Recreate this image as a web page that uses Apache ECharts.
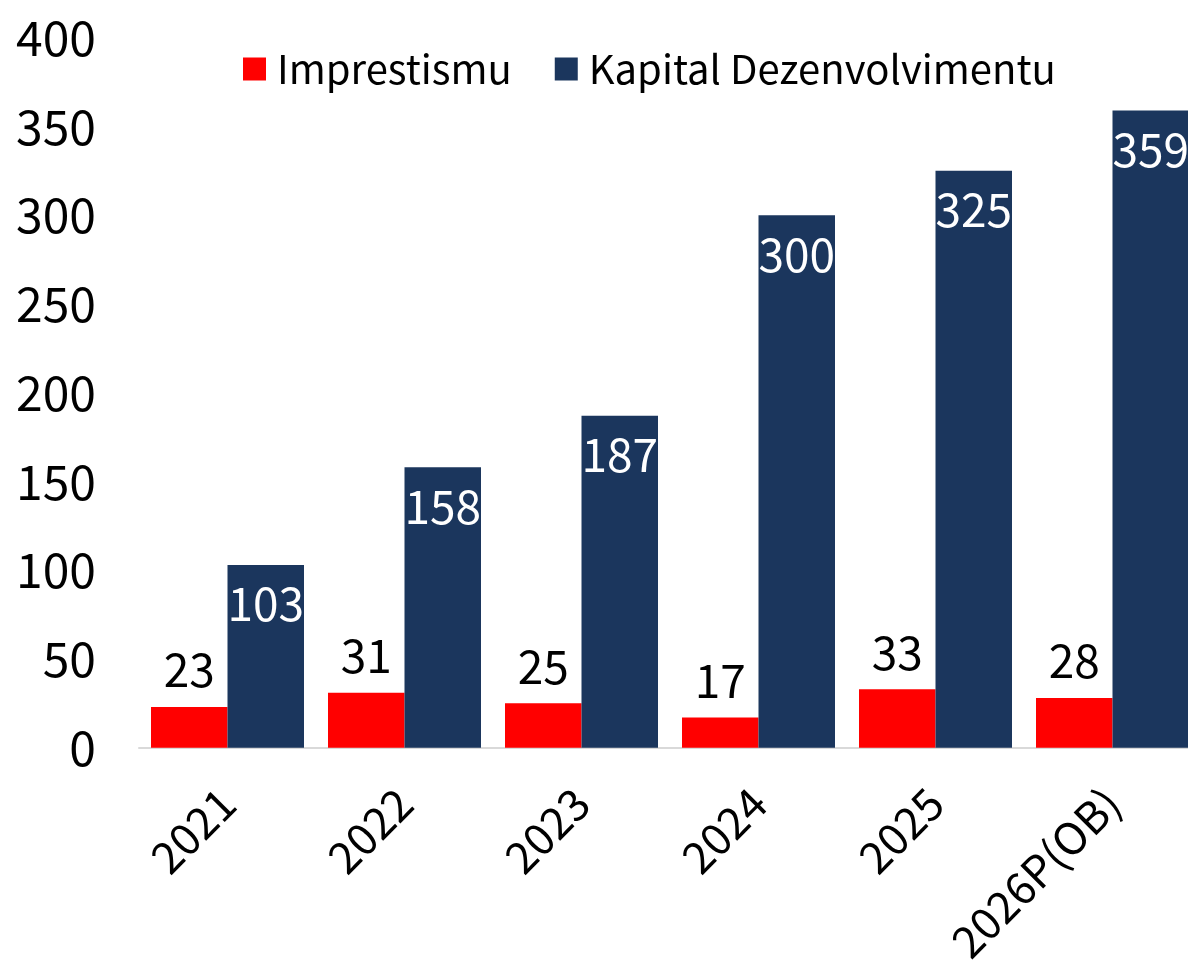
<!DOCTYPE html>
<html>
<head>
<meta charset="utf-8">
<title>Imprestismu / Kapital Dezenvolvimentu</title>
<script src="https://cdn.jsdelivr.net/npm/echarts@6/dist/echarts.min.js"></script>
<style>
html,body{margin:0;padding:0;background:#fff;}
#bar-chart{width:1188px;height:965px;}
</style>
</head>
<body>
<div id="bar-chart"></div>
<script>
//数据
var years=['2021','2022','2023','2024','2025','2026P(OB)'];
var imprestismu=[23,31,25,17,33,28];
var kapitalDezenvolvimentu=[103,158,187,300,325,359];
var seriesNames=['Imprestismu','Kapital Dezenvolvimentu'];
var yMin=0,yMax=400,yStep=50;

var fontName="'Noto Sans CJK SC','Noto Sans',sans-serif";

//绘制柱形图
var drawChart=function () {
	var myChart=echarts.init(document.getElementById('bar-chart'));
	var option={
		animation:false,
		backgroundColor:'#ffffff',
		textStyle:{
			fontFamily:fontName,
			color:'#000'
		},
		legend:{
			left:243,
			top:49,
			padding:0,
			itemWidth:23,
			itemHeight:23,
			itemGap:43,
			icon:'rect',
			data:seriesNames,
			textStyle:{
				fontFamily:fontName,
				fontSize:40,
				color:'#000',
				padding:[0,0,0,6]
			}
		},
		grid:{
			left:139,
			right:-13,
			top:37.7,
			bottom:217.3,
			containLabel:false,
			outerBoundsMode:'none'
		},
		xAxis:{
			type:'category',
			data:years,
			axisLine:{
				show:true,
				lineStyle:{color:'#d9d9d9',width:2}
			},
			axisTick:{show:false},
			axisLabel:{
				interval:0,
				rotate:45,
				margin:48,
				fontFamily:fontName,
				fontSize:44,
				color:'#000'
			}
		},
		yAxis:{
			type:'value',
			min:yMin,
			max:yMax,
			interval:yStep,
			splitLine:{show:false},
			axisLine:{show:false},
			axisTick:{show:false},
			axisLabel:{
				margin:43,
				fontFamily:fontName,
				fontSize:48,
				color:'#000'
			}
		},
		series:[
			{
				name:seriesNames[0],
				type:'bar',
				data:imprestismu,
				barWidth:76.5,
				barGap:'0%',
				itemStyle:{color:'#ff0000'},
				label:{
					show:true,
					position:'top',
					distance:14,
					fontFamily:fontName,
					fontSize:46,
					color:'#000'
				}
			},
			{
				name:seriesNames[1],
				type:'bar',
				data:kapitalDezenvolvimentu,
				barWidth:76.5,
				barGap:'0%',
				itemStyle:{color:'#1b365d'},
				label:{
					show:true,
					position:'insideTop',
					distance:16,
					fontFamily:fontName,
					fontSize:46,
					color:'#fff'
				}
			}
		]
	};
	myChart.setOption(option);
};
drawChart();
</script>
</body>
</html>
